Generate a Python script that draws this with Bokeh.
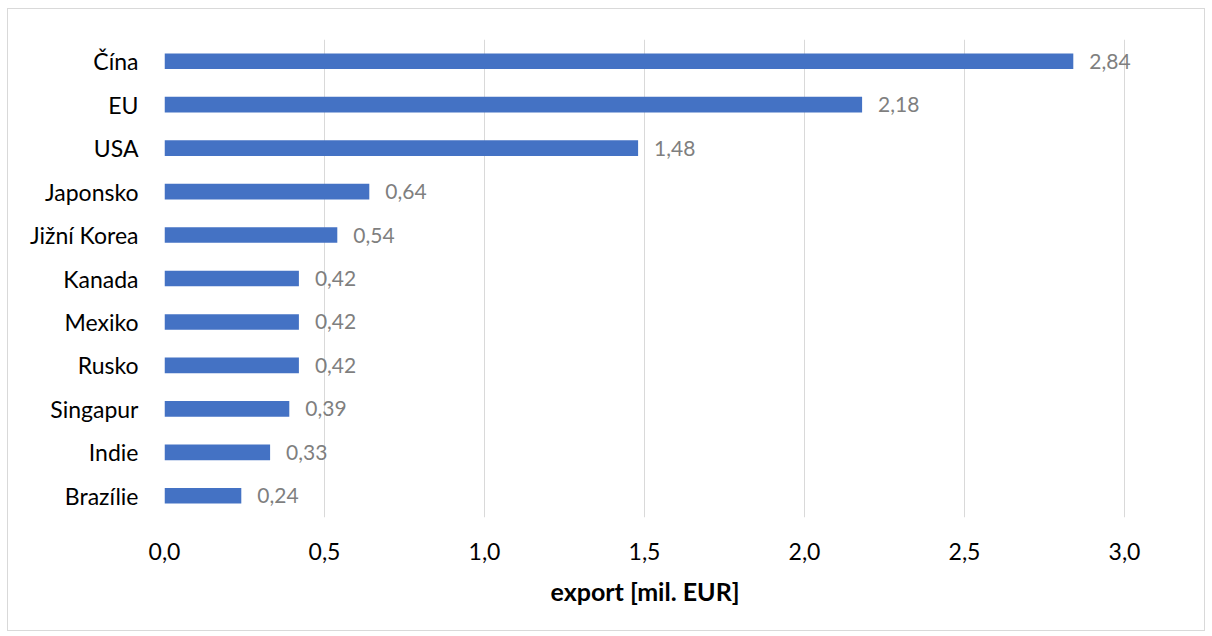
from bokeh.plotting import figure
from bokeh.models import ColumnDataSource, FactorRange, Range1d, CustomJSTickFormatter, LabelSet, Title
from bokeh.core.properties import value
from bokeh.embed import file_html
from bokeh.resources import INLINE

countries = ["Čína", "EU", "USA", "Japonsko", "Jižní Korea", "Kanada", "Mexiko",
             "Rusko", "Singapur", "Indie", "Brazílie"]
export_values = [2.84, 2.18, 1.48, 0.64, 0.54, 0.42, 0.42, 0.42, 0.39, 0.33, 0.24]
x_ticks = [0.0, 0.5, 1.0, 1.5, 2.0, 2.5, 3.0]
x_title = "export [mil. EUR]"

labels = [f"{v:.2f}".replace(".", ",") for v in export_values]
src = ColumnDataSource(dict(country=countries, value=export_values, label=labels))

FONT = "Lato"

p = figure(
    y_range=FactorRange(factors=list(reversed(countries)), range_padding=0),
    x_range=Range1d(0, 3.2),
    frame_width=1024, frame_height=478,
    min_border_left=156, min_border_right=16, min_border_top=30, min_border_bottom=113,
    output_backend="svg", toolbar_location=None,
)
p.styles = {"border": "1px solid #D9D9D9", "margin-left": "7px", "margin-top": "8px"}
p.outline_line_color = None
p.background_fill_color = "white"
p.border_fill_color = "white"

p.hbar(y="country", right="value", left=0, height=0.36, source=src,
       fill_color="#4472C4", line_color=None)

lbl = LabelSet(x="value", y="country", text="label", source=src,
               x_offset=16, y_offset=0, text_baseline="middle", text_align="left",
               text_color="#7F7F7F", text_font=value(FONT), text_font_size="21px")
p.add_layout(lbl)

p.xaxis.ticker = x_ticks
p.xaxis.formatter = CustomJSTickFormatter(code="return tick.toFixed(1).replace('.', ',');")

p.add_layout(Title(text=x_title, align="left", offset=386, text_font=FONT,
                   text_font_size="25px", text_font_style="bold", text_color="black",
                   standoff=23), "below")

for ax in (p.xaxis, p.yaxis):
    ax.axis_line_color = None
    ax.major_tick_line_color = None
    ax.minor_tick_line_color = None
    ax.major_label_text_font = FONT
    ax.major_label_text_font_size = "23px"
    ax.major_label_text_color = "black"

p.xaxis.major_label_standoff = 19
p.yaxis.major_label_standoff = 20

p.xgrid.grid_line_color = "#D9D9D9"
p.xgrid.grid_line_width = 1
p.ygrid.grid_line_color = None

open("out.html", "w").write(file_html(p, INLINE))
